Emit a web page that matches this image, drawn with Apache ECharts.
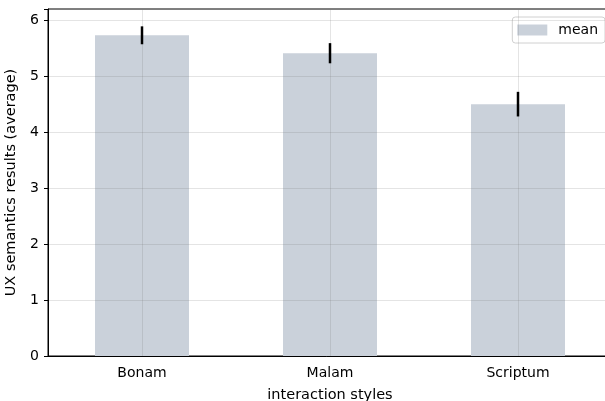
<!DOCTYPE html>
<html>
<head>
<meta charset="utf-8">
<script src="https://cdn.jsdelivr.net/npm/echarts@6/dist/echarts.min.js"></script>
<style>
  html, body { margin: 0; padding: 0; background: #fff; overflow: hidden; }
  #chart { width: 605px; height: 401px; }
</style>
</head>
<body>
<div id="chart"></div>
<script>
// Mean UX semantics score per interaction style, with error bar half-widths
const categories = ['Bonam', 'Malam', 'Scriptum'];
const means = [5.73, 5.41, 4.50];
const errors = [0.16, 0.18, 0.22];
const yTicks = [0, 1, 2, 3, 4, 5, 6];
const Y_MAX = 6.2;

const FONT = 'DejaVu Sans';
const GRID_COLOR = 'rgba(120,120,120,0.2)';
const chart = echarts.init(document.getElementById('chart'), null, { renderer: 'canvas' });

const errData = categories.map((c, i) => [i, means[i] - errors[i], means[i] + errors[i]]);
const vGridData = categories.map((c, i) => [i]);

chart.setOption({
  animation: false,
  textStyle: { fontFamily: FONT },
  grid: {
    left: 48, right: -7, top: 9, bottom: 45,
    outerBoundsMode: 'none',
    containLabel: false,
    show: true, borderColor: '#000', borderWidth: 1, backgroundColor: 'transparent'
  },
  legend: {
    right: 0, top: 17,
    itemWidth: 30, itemHeight: 11, itemGap: 6,
    padding: [6, 7, 6, 5],
    borderColor: '#d0d0d0', borderWidth: 1, borderRadius: 3,
    textStyle: { fontFamily: FONT, fontSize: 14, color: '#000', padding: [0, 0, 0, 6] },
    data: [{ name: 'mean', icon: 'rect' }]
  },
  xAxis: {
    type: 'category',
    data: categories,
    z: 5,
    name: 'interaction styles',
    nameLocation: 'middle',
    nameGap: 32,
    nameTextStyle: { fontFamily: FONT, fontSize: 14.5, color: '#000' },
    axisLine: { lineStyle: { color: '#000', width: 1 } },
    axisTick: { alignWithLabel: true, length: 4, lineStyle: { color: '#000' } },
    axisLabel: { fontFamily: FONT, fontSize: 14, color: '#000', margin: 10 },
    splitLine: { show: false }
  },
  yAxis: {
    type: 'value',
    min: 0, max: Y_MAX, interval: 1,
    z: 5,
    name: 'UX semantics results (average)',
    nameLocation: 'middle',
    nameGap: 29,
    nameRotate: 90,
    nameTextStyle: { fontFamily: FONT, fontSize: 14.5, color: '#000' },
    axisLine: { show: true, lineStyle: { color: '#000', width: 1 } },
    axisTick: { show: true, length: 4, lineStyle: { color: '#000' } },
    axisLabel: {
      fontFamily: FONT, fontSize: 14, color: '#000', margin: 9,
      formatter: v => (yTicks.indexOf(v) >= 0 ? String(v) : '')
    },
    splitLine: { show: true, lineStyle: { color: GRID_COLOR, width: 1 } }
  },
  series: [
    {
      name: 'mean',
      type: 'bar',
      data: means,
      barWidth: '50%',
      itemStyle: { color: '#cad1da' },
      z: 2
    },
    {
      // vertical grid lines through each category centre, drawn above the bars
      name: 'vgrid',
      type: 'custom',
      data: vGridData,
      z: 6,
      silent: true,
      renderItem: (params, api) => {
        const lo = api.coord([api.value(0), 0]);
        const hi = api.coord([api.value(0), Y_MAX]);
        const x = Math.round(lo[0]) + 0.5;
        return {
          type: 'line',
          shape: { x1: x, y1: lo[1], x2: x, y2: hi[1] },
          style: { stroke: GRID_COLOR, lineWidth: 1 }
        };
      }
    },
    {
      name: 'error',
      type: 'custom',
      data: errData,
      z: 10,
      renderItem: (params, api) => {
        const lo = api.coord([api.value(0), api.value(1)]);
        const hi = api.coord([api.value(0), api.value(2)]);
        return {
          type: 'line',
          shape: { x1: lo[0], y1: lo[1], x2: hi[0], y2: hi[1] },
          style: { stroke: '#000', lineWidth: 2.5 }
        };
      }
    }
  ]
});
</script>
</body>
</html>
